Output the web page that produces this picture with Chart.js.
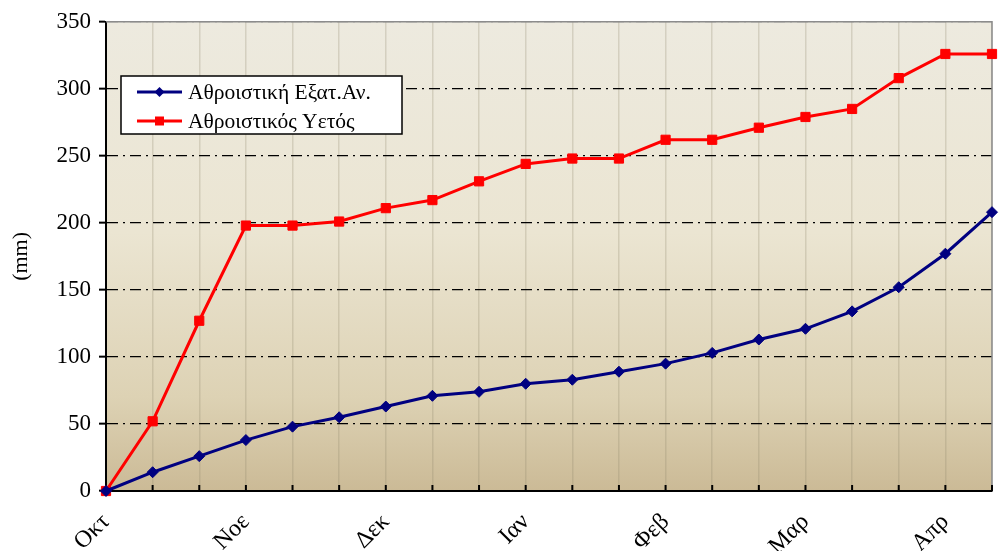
<!DOCTYPE html>
<html>
<head>
<meta charset="utf-8">
<script src="https://cdn.jsdelivr.net/npm/chart.js@4"></script>
<style>
  html, body { margin: 0; padding: 0; background: #fff; }
  #wrap { width: 1000px; height: 551px; }
</style>
</head>
<body>
<div id="wrap"><canvas id="myChart" width="1000" height="551"></canvas></div>
<script>
// category labels (one every 3 points)
const months = ['Οκτ', '', '', 'Νοε', '', '', 'Δεκ', '', '', 'Ιαν', '', '', 'Φεβ', '', '', 'Μαρ', '', '', 'Απρ', ''];
const evapValues = [0, 14, 26, 38, 48, 55, 63, 71, 74, 80, 83, 89, 95, 103, 113, 121, 134, 152, 177, 208];
const rainValues = [0, 52, 127, 198, 198, 201, 211, 217, 231, 244, 248, 248, 262, 262, 271, 279, 285, 308, 326, 326];
const yTicks = [0, 50, 100, 150, 200, 250, 300, 350];

const serif = "'Liberation Serif', 'DejaVu Serif', serif";

// plot background gradient + top/right grey frame + inward x ticks
const areaPlugin = {
  id: 'areaPlugin',
  beforeDraw(chart) {
    const { ctx, chartArea: a } = chart;
    const g = ctx.createLinearGradient(0, a.top, 0, a.bottom);
    g.addColorStop(0, '#edeadf');
    g.addColorStop(0.45, '#ebe5d2');
    g.addColorStop(0.8, '#ddd2b4');
    g.addColorStop(1, '#cbba96');
    ctx.save();
    ctx.fillStyle = g;
    ctx.fillRect(a.left, a.top, a.right - a.left, a.bottom - a.top);
    ctx.restore();
  },
  beforeDatasetsDraw(chart) {
    const { ctx, chartArea: a } = chart;
    const xs = chart.scales.x;
    ctx.save();
    ctx.strokeStyle = '#8c8c8c';
    ctx.lineWidth = 1.5;
    ctx.beginPath();
    ctx.moveTo(a.left, a.top);
    ctx.lineTo(a.right, a.top);
    ctx.lineTo(a.right, a.bottom);
    ctx.stroke();
    ctx.strokeStyle = '#000';
    ctx.lineWidth = 2;
    ctx.beginPath();
    for (let i = 0; i < months.length; i++) {
      const x = xs.getPixelForTick(i);
      ctx.moveTo(x, a.bottom);
      ctx.lineTo(x, a.bottom - 6);
    }
    ctx.stroke();
    ctx.restore();
  },
  afterDraw(chart) {
    const { ctx } = chart;
    const bx = 121, by = 76, bw = 281, bh = 58;
    ctx.save();
    ctx.fillStyle = '#fff';
    ctx.fillRect(bx, by, bw, bh);
    ctx.strokeStyle = '#000';
    ctx.lineWidth = 1.5;
    ctx.strokeRect(bx, by, bw, bh);
    ctx.font = '21.5px ' + serif;
    ctx.textBaseline = 'middle';
    chart.data.datasets.forEach((ds, i) => {
      const y = by + 16 + i * 29;
      ctx.strokeStyle = ds.borderColor;
      ctx.lineWidth = 3;
      ctx.beginPath();
      ctx.moveTo(137, y);
      ctx.lineTo(182, y);
      ctx.stroke();
      ctx.fillStyle = ds.borderColor;
      ctx.beginPath();
      if (i === 0) {
        ctx.moveTo(159.5, y - 5); ctx.lineTo(164.5, y); ctx.lineTo(159.5, y + 5); ctx.lineTo(154.5, y);
      } else {
        ctx.rect(155, y - 4.5, 9, 9);
      }
      ctx.fill();
      ctx.fillStyle = '#000';
      ctx.fillText(ds.label, 188, y + 1);
    });
    ctx.restore();
  }
};

new Chart(document.getElementById('myChart'), {
  type: 'line',
  data: {
    labels: months,
    datasets: [{
      label: 'Αθροιστική Εξατ.Αν.',
      data: evapValues,
      borderColor: '#000080',
      backgroundColor: '#000080',
      borderWidth: 3,
      pointStyle: 'rectRot',
      pointRadius: 5.5,
      pointBorderWidth: 1,
      clip: false
    }, {
      label: 'Αθροιστικός Υετός',
      data: rainValues,
      borderColor: '#ff0000',
      backgroundColor: '#ff0000',
      borderWidth: 3,
      pointStyle: 'rect',
      pointRadius: 6.5,
      pointBorderWidth: 1,
      clip: false
    }]
  },
  options: {
    responsive: false,
    animation: false,
    layout: { padding: { top: 21, right: 8, left: 0, bottom: 0 } },
    plugins: {
      legend: { display: false },
      tooltip: { enabled: false }
    },
    scales: {
      x: {
        offset: false,
        afterFit: (s) => { s.height = 60; s.paddingLeft = 0; s.paddingRight = 0; },
        grid: { color: 'rgba(140,130,105,0.25)', lineWidth: 1.5, drawTicks: false },
        border: { color: '#000', width: 2 },
        ticks: {
          autoSkip: false,
          minRotation: 45,
          maxRotation: 45,
          padding: 17,
          color: '#000',
          font: { family: serif, size: 24 }
        }
      },
      y: {
        min: 0,
        max: 350,
        afterFit: (s) => { s.width = 106; },
        afterBuildTicks: (s) => { s.ticks = yTicks.map(v => ({ value: v })); },
        grid: {
          color: (c) => c.tick && c.tick.value === 350 ? '#8c8c8c' : '#000',
          lineWidth: 1.3,
          tickLength: 7,
          tickColor: '#000',
          tickWidth: 2,
          tickBorderDash: []
        },
        border: { color: '#000', width: 2, dash: [11, 5, 2, 5] },
        title: {
          display: true,
          text: '(mm)',
          color: '#000',
          font: { family: serif, size: 22 },
          padding: { top: 8, bottom: 14 }
        },
        ticks: {
          padding: 8,
          color: '#000',
          font: { family: serif, size: 23 }
        }
      }
    }
  },
  plugins: [areaPlugin]
});
</script>
</body>
</html>
